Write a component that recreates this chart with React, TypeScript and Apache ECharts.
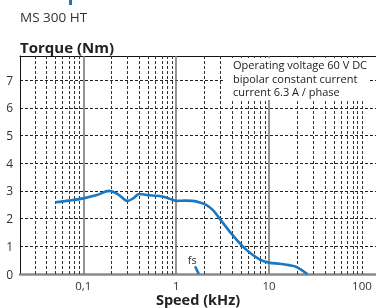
import React, { useEffect, useRef } from "react";
import * as echarts from "echarts";

// Speed (kHz) and torque (Nm)
const speedKHz = [0.05, 0.07, 0.1, 0.14, 0.19, 0.24, 0.3, 0.35, 0.4, 0.52, 0.71, 0.85, 1.0, 1.25, 1.5, 1.8, 2.12, 2.5, 2.92, 4.04, 5.71, 7.88, 10, 13, 16.4, 19.6, 25.8];
const torqueNm = [2.59, 2.65, 2.73, 2.85, 3.0, 2.86, 2.64, 2.75, 2.89, 2.84, 2.8, 2.72, 2.64, 2.65, 2.64, 2.58, 2.49, 2.3, 2.01, 1.41, 0.87, 0.53, 0.41, 0.37, 0.32, 0.26, 0];

// fs marker segment
const fsSpeed = [1.6, 1.75];
const fsTorque = [0.27, 0];

// grid lines (kHz)
const decadeLines = [0.1, 1, 10];
const minorLines = [0.03, 0.04, 0.05, 0.06, 0.07, 0.08, 0.09, 0.2, 0.3, 0.4, 0.5, 0.6, 0.7, 0.8, 0.9, 2, 3, 4, 5, 6, 7, 8, 9, 20, 30, 40, 50, 60, 70, 80, 90, 100];
const xTickValues = [0.1, 1, 10, 100];
const xTickLabels = ["0,1", "1", "10", "100"];

const annotationLines = ["Operating voltage 60 V DC", "bipolar constant current", "current 6.3 A / phase"];

const FONT = "Open Sans";
const BLUE = "#1a78c2";

export default function App() {
  const ref = useRef<HTMLDivElement>(null);
  useEffect(() => {
    if (!ref.current) return;
    const chart = echarts.init(ref.current, null, { renderer: "svg" });
    const labelFor = (v: number) => {
      for (let i = 0; i < xTickValues.length; i++) {
        if (Math.abs(Math.log10(v) - Math.log10(xTickValues[i])) < 1e-6) return xTickLabels[i];
      }
      return "";
    };
    const xMin = 0.0208;
    const xMax = 141.6;
    chart.setOption({
      animation: false,
      textStyle: { fontFamily: FONT },
      grid: { left: 20, right: 0, top: 56, bottom: 34, containLabel: false, outerBoundsMode: "none" },
      xAxis: [
        {
          type: "log",
          logBase: 10,
          min: xMin,
          max: xMax,
          name: "Speed (kHz)",
          nameLocation: "middle",
          nameGap: 25,
          nameMoveOverlap: false,
          nameTextStyle: { fontFamily: FONT, fontWeight: "bold", fontSize: 14.5, color: "#222", verticalAlign: "middle" },
          axisLine: { show: true, lineStyle: { color: "#8a8a8a", width: 2.5 } },
          axisTick: { show: false },
          splitLine: { show: false },
          axisLabel: {
            show: true,
            fontFamily: FONT,
            fontSize: 11.5,
            color: "#333",
            margin: 5,
            showMinLabel: false,
            showMaxLabel: false,
            formatter: (v: number) => labelFor(v),
          },
        },
        {
          type: "log",
          logBase: 10,
          min: xMin,
          max: xMax,
          position: "top",
          axisLine: { show: true, lineStyle: { color: "#111", width: 1 } },
          axisTick: { show: false },
          axisLabel: { show: false },
          splitLine: { show: false },
        },
      ],
      yAxis: {
        type: "value",
        min: 0,
        max: 7.87,
        interval: 1,
        name: "Torque (Nm)",
        nameLocation: "end",
        nameGap: 9,
        nameMoveOverlap: false,
        nameTextStyle: { fontFamily: FONT, fontWeight: "bold", fontSize: 15, color: "#222", align: "left", verticalAlign: "middle", padding: [0, 0, 0, 0] },
        axisLine: { show: true, lineStyle: { color: "#111", width: 1 } },
        axisTick: { show: false },
        axisLabel: {
          fontFamily: FONT,
          fontSize: 12,
          color: "#333",
          margin: 7,
          showMaxLabel: false,
        },
        splitLine: { show: true, lineStyle: { color: "#222", width: 1, type: [3, 2] } },
      },
      series: [
        {
          type: "line",
          z: 1,
          data: [],
          silent: true,
          markLine: {
            silent: true,
            symbol: "none",
            label: { show: false },
            animation: false,
            data: [
              ...minorLines.map((v) => ({ xAxis: v, lineStyle: { color: "#333", width: 1, type: [3, 2] } })),
              ...decadeLines.map((v) => ({ xAxis: v, lineStyle: { color: "#7a7a7a", width: 1.6, type: "solid" } })),
            ],
          },
        },
        {
          type: "line",
          z: 5,
          smooth: 0.35,
          showSymbol: false,
          symbol: "none",
          lineStyle: { color: BLUE, width: 2.6 },
          data: speedKHz.map((s, i) => [s, torqueNm[i]]),
        },
        {
          type: "line",
          z: 5,
          showSymbol: true,
          symbol: "circle",
          symbolSize: 1,
          itemStyle: { color: BLUE },
          lineStyle: { color: BLUE, width: 2.6 },
          data: fsSpeed.map((s, i) =>
            i === 0
              ? {
                  value: [s, fsTorque[i]],
                  label: { show: true, formatter: "fs", position: "top", distance: 1, offset: [-3, 0], fontFamily: FONT, fontSize: 11, color: "#333" },
                }
              : [s, fsTorque[i]]
          ),
        },
      ],
      graphic: [
        {
          type: "rect",
          z: 20,
          shape: { x: 69, y: 0, width: 3, height: 5 },
          style: { fill: BLUE },
        },
        {
          type: "text",
          z: 20,
          left: 20,
          top: 10,
          style: { text: "MS 300 HT", fontFamily: FONT, fontSize: 13.5, fill: "#333" },
        },
        {
          type: "rect",
          z: 20,
          shape: { x: 225, y: 58, width: 144, height: 42 },
          style: { fill: "#fff" },
        },
        {
          type: "text",
          z: 21,
          x: 233,
          y: 58,
          style: {
            text: annotationLines.join("\n"),
            fontFamily: FONT,
            fontSize: 11,
            lineHeight: 13.5,
            fill: "#222",
          },
        },
      ],
    });
    return () => chart.dispose();
  }, []);
  return <div ref={ref} style={{ position: "fixed", left: 0, top: 0, width: 376, height: 308 }} />;
}
